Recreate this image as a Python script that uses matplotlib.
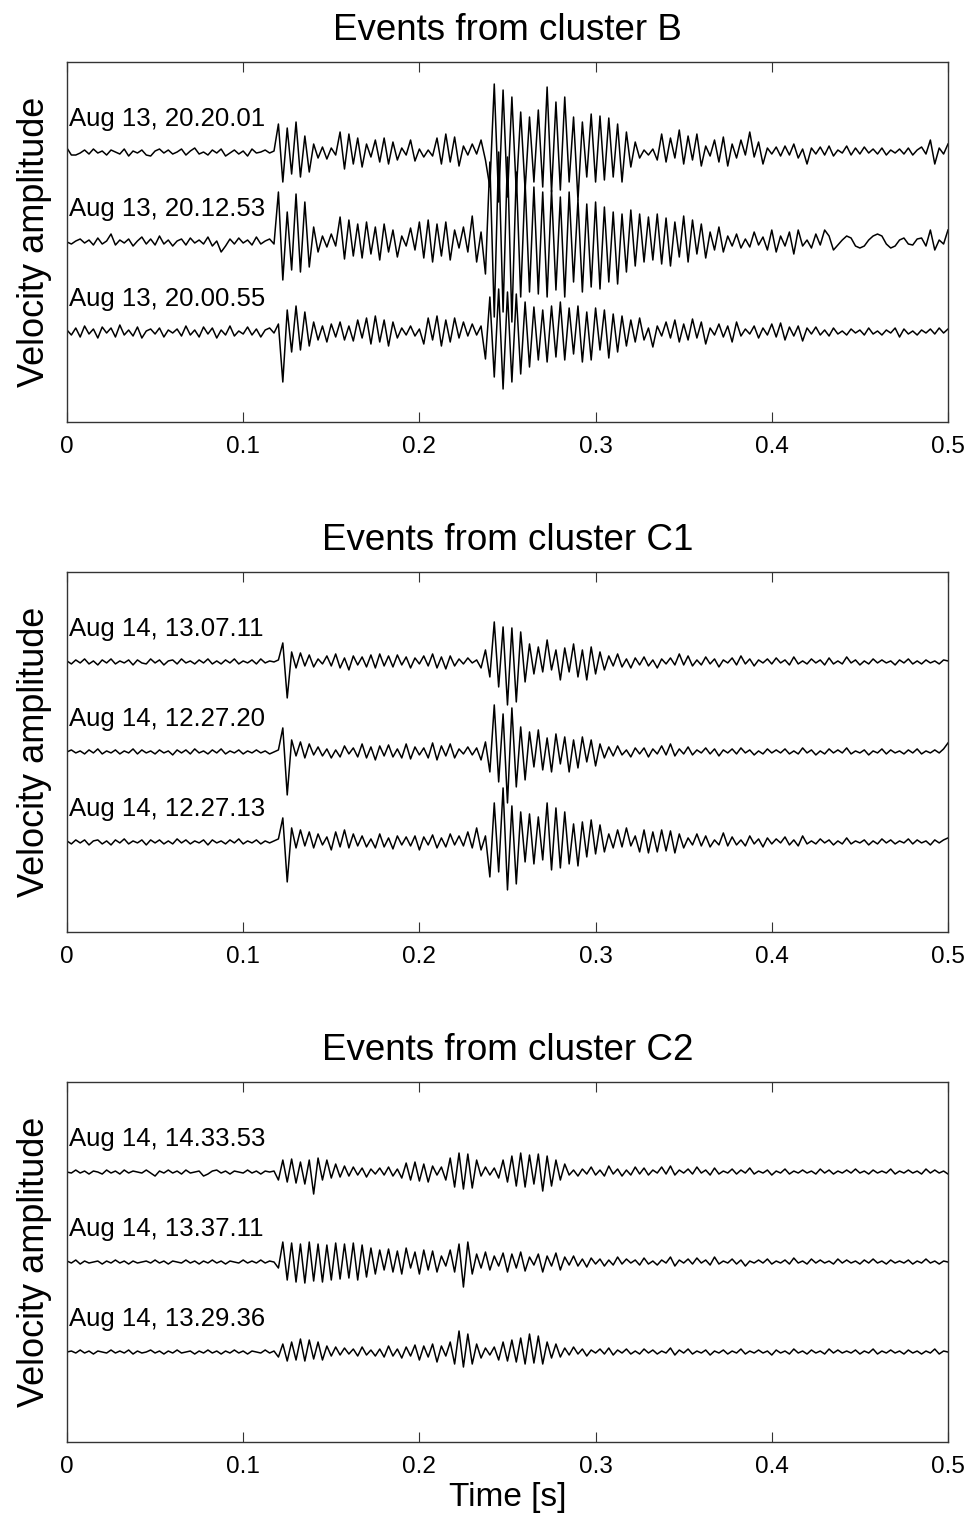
"""Three panels of stacked seismogram traces (velocity vs time) for clusters B, C1, C2."""
import numpy as np
import matplotlib
matplotlib.use("Agg")
import matplotlib.pyplot as plt

plt.rcParams["font.family"] = ["Liberation Sans", "DejaVu Sans"]

# sample step of the hand-read traces (s); values are amplitudes in screen pixels
STEP = 0.0025
PX_PER_UNIT = 90.0

TITLES = ["Events from cluster B", "Events from cluster C1", "Events from cluster C2"]
XTICKS = [0, 0.1, 0.2, 0.3, 0.4, 0.5]
XTICK_LABELS = ["0", "0.1", "0.2", "0.3", "0.4", "0.5"]

LABELS_B = ["Aug 13, 20.20.01", "Aug 13, 20.12.53", "Aug 13, 20.00.55"]
LABELS_C1 = ["Aug 14, 13.07.11", "Aug 14, 12.27.20", "Aug 14, 12.27.13"]
LABELS_C2 = ["Aug 14, 14.33.53", "Aug 14, 13.37.11", "Aug 14, 13.29.36"]

B1 = [4, -3, -3, -1, 2, -2, 3, -1, 1, -3, 2, 0, -2, 3, -4, 1, -1, 2, -3, -4,
      1, 3, -1, 2, -2, 0, 3, -3, 1, 4, -2, 0, -3, 2, -1, 3, -4, -1, 2, -2,
      1, -4, 3, -1, 0, 2, -1, 1,
      28, -30, 24, -22, 30, -25, 16, -20, 8, -6, 5, -7, 4, -3, 20, -17, 18, -12, 14, -15,
      8, -5, 12, -10, 14, -12, 10, -8, 4, -3, 12, -9, 3, -5, 2, -4, 14, -12, 18, -10,
      15, -14, 6, -3, 8, -2, 12, -8,
      -35, 68, -50, 62, -45, 55, -40, 40, -38, 35, -30, 42, -35, 65, -40, 50, -38, 55, -30, 35,
      -48, 30, -25, 38, -30, 36, -28, 34, -25, 28, -30, 20, -15, 10, -6,
      2, -3, 3, -8, 18, -10, 14, -6, 22, -12, 16, -8, 18, -14, 6, -4, 12, -10, 15, -14,
      8, -6, 12, -3, 20, -5, 10, -12, 4, -2, 5, -4, 6, -3, 8, -6, 3, -12, 4, -2,
      5, -3, 6, -4, 2, -1, 6, -3, 4, -2, 5, -1, 3, -2, 4, -3, 2, -1, 3, -2,
      4, -3, 2, 5, -2, 12, -12, 4, -2, 8]
B2 = [0, -2, 1, 3, -1, 2, -3, 4, -2, 1, 8, -3, 2, -1, 3, -4, 1, 5, -2, 3,
      -3, 6, -2, 2, -4, 1, 3, -3, 4, -1, 2, -2, 5, -4, 1, -10, -4, 3, -2, 4,
      -1, 2, -3, 5, -2, 1, 3, -2,
      50, -38, 30, -28, 48, -30, 40, -25, 15, -10, 6, -5, 8, -4, 25, -17, 22, -14, 18, -16,
      20, -12, 15, -18, 18, -10, 12, -15, 6, -4, 14, -8, 20, -16, 22, -20, 18, -14, 20, -18,
      12, -6, 15, -10, 26, -20, 10, -32,
      80, -75, 90, -70, 85, -80, 70, -55, 60, -50, 55, -52, 50, -55, 52, -48, 45, -55, 50, -40,
      42, -50, 38, -45, 40, -47, 35, -40, 30, -42, 28, -30, 32, -24, 28,
      -20, 25, -18, 28, -22, 24, -24, 20, -15, 26, -20, 22, -12, 18, -16, 10, -8, 15, -10, 6,
      -4, 8, -6, 3, -5, 10, -3, 5, -8, 12, -10, 6, -4, 10, -12, 12, -4, 2, -6, 8,
      -3, 12, 6, -8, -3, 2, 6, 4, -4, -6, -4, 2, 6, 8, 6, -2, -6, -4, 2, 4,
      -2, -3, 3, 4, -4, 12, -8, 2, -2, 12]
B3 = [2, -3, 4, -5, 6, -2, 3, -6, 5, -1, 4, -5, 7, -3, 2, -4, 5, -6, 1, 3,
      -2, 4, -5, 2, -1, 3, -4, 6, -3, 2, -5, 5, -2, 4, -6, 2, -3, 6, -4, 1,
      -2, 5, -3, 3, -5, 2, 4, -1,
      8, -50, 22, -20, 26, -18, 20, -14, 10, -8, 6, -10, 8, -5, 10, -8, 6, -9, 12, -6,
      14, -12, 16, -10, 12, -14, 10, -6, 4, -3, 6, -4, 3, -12, 14, -8, 16, -14, 12, -10,
      14, -6, 10, -4, 8, -3, 6, -27,
      35, -45, 43, -57, 40, -50, 38, -42, 30, -35, 25, -28, 22, -30, 26, -25, 30, -28, 24, -22,
      26, -30, 20, -28, 24, -18, 22, -26, 18, -20, 16, -14, 12, -10, 14,
      -8, 4, -15, 6, -4, 10, -6, 12, -10, 8, -8, 13, -6, 10, -12, 4, -3, 8, -5, 6,
      -10, 10, -4, 3, -2, 6, -6, 4, -3, 8, -5, 9, -8, 5, -4, 6, -9, 4, -2, 5,
      -3, 2, -4, 4, -2, 1, -3, 3, -1, 2, -3, 4, -2, 1, -3, 2, -1, 4, -5, 3,
      -2, 1, -3, 2, -1, 3, -2, 4, -1, 3]

C1A = [1, -2, 2, -1, 3, -2, 1, -3, 2, -1, 3, -2, 1, -1, 2, -3, 2, -1, -2, 3,
       -1, 2, -3, 1, 2, -2, 3, -1, 1, -2, 2, -1, 3, -2, 1, -2, 2, -1, 3, -2,
       1, -1, 2, -2, 3, -1, 1, 0,
       2, 19, -36, 10, -6, 9, -4, 7, -5, 3, -2, 6, -4, 8, -6, 4, -8, 6, -3, 5,
       -5, 7, -6, 8, -4, 6, -5, 7, -3, 5, -6, 4, -2, 6, -4, 8, -6, 5, -7, 6,
       -4, 3, -2, 4, -1, 2, -6, 12,
       -15, 40, -25, 35, -43, 34, -40, 30, -20, 18, -12, 15, -10, 22, -8, 12, -18, 14, -10, 18,
       -15, 12, -18, 15, -12, 10, -8, 6, -4, 8, -5, 3, -6, 4, -3,
       5, -4, 2, -6, 3, -2, 4, -3, 8, -3, 6, -4, 2, -3, 5, -2, 3, -5, 2, -1,
       4, -3, 6, -2, 3, -4, 2, -1, 3, -2, 4, -1, 2, -3, 5, -2, 1, -2, 3, -1,
       2, -3, 4, -2, 1, -2, 5, -1, 2, -3, 1, -2, 3, -1, 2, -1, 1, -3, 2, -1,
       3, -2, 1, -2, 2, -1, 1, -2, 2, 1]
C1B = [0, 2, -1, 1, -2, 2, -1, 3, -2, 1, -1, 2, -2, 1, -1, 3, -2, 2, -1, 1,
       -2, 2, -1, 1, -3, 2, -1, 2, -2, 3, -1, 1, -2, 2, -1, 3, -2, 1, -1, 2,
       -2, 1, -1, 2, -1, 1, -2, 0,
       2, 24, -43, 12, -4, 10, -6, 8, -3, 5, -4, 3, -6, 2, -5, 6, -2, 4, -5, 8,
       -6, 5, -8, 6, -4, 7, -5, 3, -6, 8, -7, 5, -3, 4, -6, 9, -8, 6, -4, 8,
       -6, 3, -2, 5, -3, 4, -8, 10,
       -20, 47, -30, 38, -51, 44, -35, 25, -28, 20, -15, 22, -18, 14, -20, 18, -12, 15, -20, 12,
       -16, 15, -10, 12, -14, 8, -6, 5, -4, 6, -3, 2, -5, 4, -2,
       4, -5, 3, -2, 6, -3, 8, -4, 3, -2, 5, -3, 2, -1, 4, -2, 3, -4, 2, -1,
       3, -2, 4, -1, 2, -3, 1, -2, 3, -1, 2, -1, 3, -2, 1, -2, 4, -1, 2, -3,
       1, -2, 3, -1, 2, -1, 4, -2, 1, -1, 2, -3, 1, -1, 3, -2, 2, -1, 1, -2,
       2, -1, 3, -2, 1, -1, 2, -1, 3, 9]
C1C = [1, -2, 2, -1, 2, -3, 1, 2, -2, 1, -3, 2, -1, 3, -2, 1, -1, 2, -3, 2,
       -1, 2, -2, 1, -2, 3, -1, 2, -2, 1, -1, 2, -3, 2, -1, 1, -2, 2, -1, 3,
       -2, 1, -1, 2, -2, 1, -1, 1,
       3, 24, -40, 14, -6, 12, -4, 10, -6, 8, -3, 5, -8, 10, -5, 12, -6, 8, -4, 6,
       -5, 3, -6, 8, -5, 4, -7, 6, -3, 5, -4, 6, -8, 5, -3, 7, -6, 4, -5, 8,
       -3, 6, -4, 10, -6, 14, -8, 6,
       -35, 39, -30, 54, -48, 36, -42, 30, -20, 28, -22, 25, -18, 39, -28, 34, -26, 30, -22, 18,
       -24, 20, -15, 22, -12, 17, -10, 8, -6, 12, -5, 14, -4, 6, -10,
       12, -11, 10, -10, 12, -9, 11, -11, 8, -6, 4, -3, 8, -4, 6, -5, 2, -3, 9, -4,
       5, -3, 2, -4, 6, -2, 3, -5, 4, -2, 3, -1, 5, -3, 2, -4, 6, -2, 1, -2,
       3, -1, 2, -3, 1, -2, 4, -2, 1, -1, 2, -3, 1, -2, 3, -1, 2, -2, 1, -1,
       3, -2, 2, -1, 1, -3, 2, -1, 2, 4]

C2A = [0, -1, 2, -1, 1, -2, 1, 0, -2, 2, -1, 1, -2, 2, -1, 1, 0, -1, 2, -1,
       -4, 1, -1, 2, -1, 1, -2, 2, -1, 0, 1, -4, -2, 1, 2, -1, 1, -2, 1, 0,
       -1, 2, -1, 1, -2, 1, 0, 1,
       -8, 12, -10, 13, -11, 10, -12, 12, -22, 14, -8, 12, -6, 8, -5, 6, -4, 5, -3, 4,
       -5, 3, -2, 4, -3, 5, -4, 3, -6, 9, -8, 10, -9, 8, -10, 6, -3, 5, -8, 14,
       -15, 19, -17, 18, -16, 12, -4, 5,
       -3, 4, -6, 12, -10, 16, -14, 19, -15, 17, -12, 18, -19, 16, -14, 12, -8, 8, -3, 2,
       -4, 3, -2, 5, -3, 2, -4, 6, -2, 3, -4, 2, -3, 5, -2,
       4, -3, 2, -1, 5, -2, 6, -3, 2, -1, 3, -2, 5, -1, 2, -3, 4, -2, 1, -1,
       3, -2, 2, -1, 4, -2, 1, -1, 2, -3, 1, -1, 3, -2, 1, -1, 2, -1, 1, -2,
       3, -1, 2, -2, 1, -1, 2, -1, 3, -1, 1, -2, 2, -1, 1, -1, 3, -2, 1, -1,
       2, -1, 1, -2, 3, -1, 2, -1, 1, -2]
C2B = [1, -1, 2, -2, 1, -1, 0, 1, -2, 1, -1, 2, -1, 1, -2, 1, -1, 0, 1, -1,
       2, -1, 1, -2, 1, 0, -1, 2, -1, 1, -2, 1, -1, 2, -1, 1, -2, 1, 0, -1,
       2, -1, 1, -1, 2, -1, 1, 0,
       -6, 20, -18, 19, -20, 18, -21, 20, -19, 18, -20, 17, -18, 19, -17, 18, -16, 19, -18, 17,
       -15, 14, -12, 12, -8, 13, -10, 11, -12, 14, -6, 10, -12, 12, -8, 11, -10, 6, -4, 12,
       -10, 18, -25, 20, -12, 8, -6, 10,
       -8, 6, -4, 9, -10, 8, -6, 10, -9, 5, -3, 8, -10, 6, -4, 9, -8, 5, -3, 6,
       -4, 3, -5, 4, -2, 3, -4, 2, -3, 5, -2, 3, -1, 2, -3,
       4, -2, 1, -3, 2, -1, 5, -4, 2, -1, 3, -2, 4, -1, 2, -3, 5, -2, 1, -1,
       3, -2, 2, -4, 1, -1, 2, -1, 3, -2, 1, -1, 2, -2, 4, -1, 1, -2, 3, -1,
       2, -1, 1, -2, 3, -1, 2, -1, 1, -2, 2, -1, 3, -1, 1, -2, 2, -1, 1, -1,
       2, -2, 1, -1, 3, -1, 1, -2, 1, 0]
C2C = [0, 1, -1, 2, -1, 1, -2, 1, 0, -1, 2, -1, 1, -1, 2, -2, 1, -1, 0, 2,
       -1, 1, -2, 1, -1, 2, -1, 0, 1, -2, 1, -1, 2, -1, 1, -2, 1, -1, 2, -1,
       1, -2, 1, 0, -1, 2, -1, 1,
       -5, 8, -9, 10, -8, 13, -9, 12, -7, 10, -8, 6, -4, 5, -3, 4, -2, 3, -4, 5,
       -3, 2, -4, 3, -5, 6, -4, 3, -6, 5, -4, 7, -8, 6, -5, 8, -10, 6, -4, 10,
       -12, 21, -15, 18, -12, 8, -6, 4,
       -3, 5, -8, 10, -9, 12, -10, 14, -12, 18, -11, 16, -12, 10, -6, 8, -5, 4, -3, 5,
       -2, 3, -4, 2, -1, 3, -2, 4, -3, 2, -1, 3, -2, 1, -2,
       3, -1, 2, -2, 1, -1, 4, -3, 2, -1, 3, -2, 1, -1, 2, -3, 1, -1, 2, -2,
       1, -1, 3, -2, 1, -1, 2, -1, 1, -3, 2, -1, 1, -2, 3, -1, 1, -2, 2, -1,
       1, -2, 3, -1, 2, -1, 1, -1, 2, -2, 1, -1, 3, -2, 1, -1, 2, -1, 1, -2,
       2, -1, 1, -2, 1, -1, 3, -2, 1, 0]

PANELS = [
    (TITLES[0], LABELS_B, [B1, B2, B3]),
    (TITLES[1], LABELS_C1, [C1A, C1B, C1C]),
    (TITLES[2], LABELS_C2, [C2A, C2B, C2C]),
]

AX_BOTTOMS = [0.7231, 0.3885, 0.0538]
AX_LEFT, AX_W, AX_H = 0.0689, 0.9064, 0.2362
SPINE = "#333333"

fig = plt.figure(figsize=(9.72, 15.24), dpi=100)
fig.patch.set_facecolor("white")

for k, (title, labels, traces) in enumerate(PANELS):
    ax = fig.add_axes([AX_LEFT, AX_BOTTOMS[k], AX_W, AX_H])
    n_tr = len(traces)
    for j, (lab, tr) in enumerate(zip(labels, traces)):
        base = n_tr - j
        tr = np.asarray(tr, dtype=float)
        t = np.arange(len(tr)) * STEP
        ax.plot(t, base + tr / PX_PER_UNIT, color="black", linewidth=1.1)
        ax.text(0.001, base + 26 / PX_PER_UNIT, lab, fontsize=18.5,
                ha="left", va="baseline", color="black")

    ax.set_xlim(0, 0.5)
    ax.set_ylim(0, n_tr + 1)
    ax.set_xticks(XTICKS)
    ax.set_xticklabels(XTICK_LABELS)
    ax.set_yticks([])
    ax.tick_params(axis="x", direction="in", length=7, width=0.8, top=True,
                   labelsize=17.5, pad=10, color=SPINE)
    for spine in ax.spines.values():
        spine.set_color(SPINE)
        spine.set_linewidth(1.0)
    ax.set_title(title, fontsize=26.5, pad=16)
    ax.set_ylabel("Velocity amplitude", fontsize=26, labelpad=11)
    if k == len(PANELS) - 1:
        ax.set_xlabel("Time [s]", fontsize=24, labelpad=3)

fig.savefig("out.png", dpi=100, facecolor="white")
